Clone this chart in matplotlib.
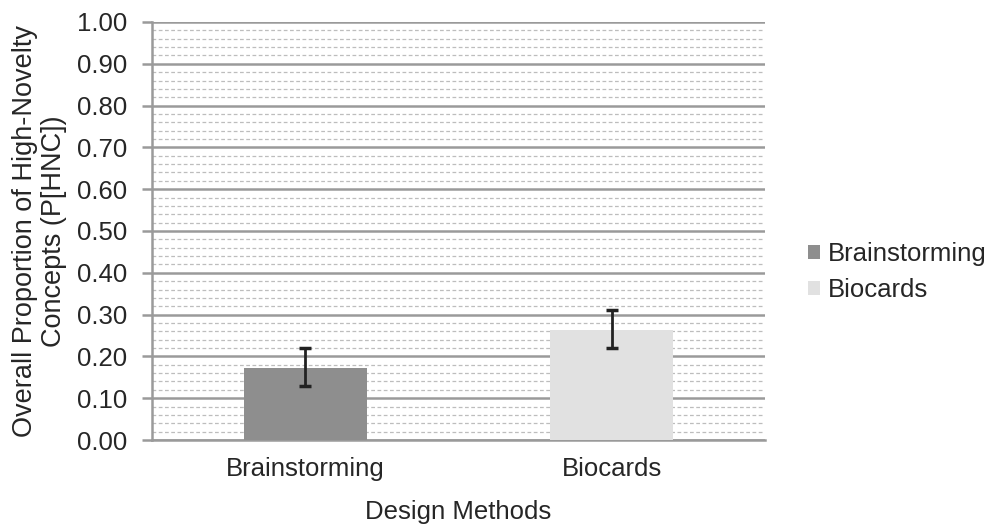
import matplotlib
matplotlib.use("Agg")
import matplotlib.pyplot as plt
from matplotlib.ticker import MultipleLocator
from matplotlib.patches import Patch

categories = ["Brainstorming", "Biocards"]
values = [0.172, 0.263]
err_low = [0.13, 0.22]
err_high = [0.22, 0.31]
colors = ["#8e8e8e", "#e1e1e1"]
yticks = [0.0, 0.1, 0.2, 0.3, 0.4, 0.5, 0.6, 0.7, 0.8, 0.9, 1.0]

plt.rcParams['font.family'] = ['Liberation Sans', 'DejaVu Sans']
FS = 18.5
TC = '#262626'

fig = plt.figure(figsize=(9.95, 5.24), dpi=100)
ax = fig.add_axes([152/995, 84/524, 613/995, 418/524])

x = list(range(len(categories)))
yerr = [[v - lo for v, lo in zip(values, err_low)], [hi - v for v, hi in zip(values, err_high)]]
ax.bar(x, values, width=0.4, color=colors, zorder=3)
ax.errorbar(x, values, yerr=yerr, fmt='none', ecolor='#222222', elinewidth=2, capsize=4.5, capthick=2.5, zorder=4)

ax.set_xlim(-0.5, 1.5)
ax.set_ylim(0, 1.0)
ax.set_yticks(yticks)
ax.set_yticklabels([f"{t:.2f}" for t in yticks])
ax.yaxis.set_minor_locator(MultipleLocator(0.02))
ax.grid(which='major', axis='y', color='#9a9a9a', linewidth=1.8, zorder=1)
ax.grid(which='minor', axis='y', color='#bdbdbd', linewidth=0.9, linestyle=(0, (3, 2)), zorder=1)
ax.set_axisbelow(True)
ax.set_xticks(x)
ax.set_xticklabels(categories)

for s in ['top', 'right']:
    ax.spines[s].set_visible(False)
ax.spines['left'].set_color('#9a9a9a')
ax.spines['left'].set_linewidth(1.8)
ax.spines['bottom'].set_color('#9a9a9a')
ax.spines['bottom'].set_linewidth(1.8)

ax.tick_params(axis='y', which='major', length=7, width=1.8, color='#9a9a9a', labelsize=FS, pad=11, labelcolor=TC)
ax.tick_params(axis='y', which='minor', length=0)
ax.tick_params(axis='x', length=0, labelsize=FS, pad=12, labelcolor=TC)

ax.set_ylabel("Overall Proportion of High-Novelty\nConcepts (P[HNC])", fontsize=19.5, color=TC, labelpad=7, linespacing=1.15)
ax.set_xlabel("Design Methods", fontsize=FS, color=TC, labelpad=14)

handles = [Patch(facecolor=c, edgecolor='none') for c in colors]
fig.legend(handles, categories, loc='center left', bbox_to_anchor=(808/995, 1 - 272/524),
           frameon=False, fontsize=FS, handlelength=0.47, handleheight=0.47, handletextpad=0.31,
           labelspacing=0.45, borderpad=0, borderaxespad=0, labelcolor=TC)

fig.savefig("out.png", dpi=100)
